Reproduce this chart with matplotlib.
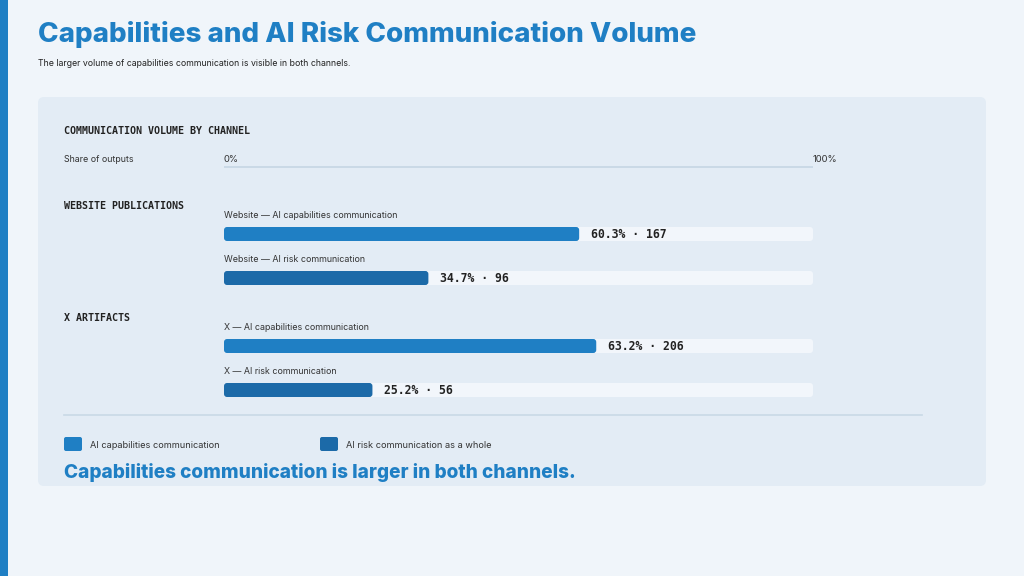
import matplotlib.pyplot as plt
from matplotlib.patches import FancyBboxPatch, Rectangle

# data
groups = ["WEBSITE PUBLICATIONS", "X ARTIFACTS"]
bar_labels = [
    "Website — AI capabilities communication",
    "Website — AI risk communication",
    "X — AI capabilities communication",
    "X — AI risk communication",
]
shares = [60.3, 34.7, 63.2, 25.2]
counts = [167, 96, 206, 56]
kinds = ["cap", "risk", "cap", "risk"]
legend_labels = ["AI capabilities communication", "AI risk communication as a whole"]

CAP = "#1f7fc4"
RISK = "#1c6aa8"
BG = "#f0f5fa"
PANEL = "#e3ecf5"
TRACK = "#f2f6fb"
DARK = "#222222"
TXT = "#333333"
SANS = ["Inter", "DejaVu Sans"]
MONO = ["DejaVu Sans Mono"]

W, H = 1024, 576
fig = plt.figure(figsize=(W / 100, H / 100), dpi=100)
fig.patch.set_facecolor(BG)

# background axes in pixel coordinates
bg = fig.add_axes([0, 0, 1, 1])
bg.set_xlim(0, W)
bg.set_ylim(H, 0)
bg.axis("off")

bg.add_patch(Rectangle((0, 0), 8, H, color=CAP, lw=0))
bg.text(38, 34, "Capabilities and AI Risk Communication Volume", fontsize=20,
        fontweight="heavy", color=CAP, family=SANS, va="center")
bg.text(38, 63, "The larger volume of capabilities communication is visible in both channels.",
        fontsize=6.3, color=DARK, family=SANS, va="center")

bg.add_patch(FancyBboxPatch((38, 97), 948, 389, boxstyle="round,pad=0,rounding_size=6",
                            fc=PANEL, ec="none"))
bg.text(64, 131, "COMMUNICATION VOLUME BY CHANNEL", fontsize=7.2, fontweight="bold",
        color=DARK, family=MONO, va="center")
bg.text(64, 159, "Share of outputs", fontsize=6.4, color=TXT, family=SANS, va="center")

# bar axes: x in percent, y in pixels
x0, x1 = 224, 813
ax = fig.add_axes([x0 / W, 0, (x1 - x0) / W, 1])
ax.set_xlim(0, 100)
ax.set_ylim(H, 0)
ax.axis("off")
px = 100 / (x1 - x0)

ax.plot([0, 100], [167, 167], color="#c5d6e3", lw=1.2, solid_capstyle="butt")
ax.text(0, 159, "0%", fontsize=6.8, color=TXT, family=SANS, va="center", ha="left")
ax.text(100, 159, "100%", fontsize=6.8, color=TXT, family=SANS, va="center", ha="left")

group_y = [205, 317]
for g, gy in zip(groups, group_y):
    bg.text(64, gy + 1, g, fontsize=7.2, fontweight="bold", color=DARK, family=MONO,
            va="center")

bar_y = []
for gy in group_y:
    bar_y += [gy + 29, gy + 73]

bh = 14
for lab, s, c, k, y in zip(bar_labels, shares, counts, kinds, bar_y):
    ax.text(0, y - 18, lab, fontsize=6.4, color=TXT, family=SANS, va="center")
    ax.add_patch(FancyBboxPatch((0, y - bh / 2), 100, bh,
                                boxstyle=f"round,pad=0,rounding_size={3 * px}",
                                mutation_aspect=1 / px, fc=TRACK, ec="none"))
    ax.add_patch(FancyBboxPatch((0, y - bh / 2), s, bh,
                                boxstyle=f"round,pad=0,rounding_size={3 * px}",
                                mutation_aspect=1 / px, fc=CAP if k == "cap" else RISK,
                                ec="none"))
    ax.text(s + 12 * px, y + 1, f"{s:.1f}% · {c}", fontsize=8.3, fontweight="bold",
            color=DARK, family=MONO, va="center")

bg.plot([64, 922], [415, 415], color="#c9d9e6", lw=1.2)

for lx, lab, col in zip([64, 320], legend_labels, [CAP, RISK]):
    bg.add_patch(FancyBboxPatch((lx, 437), 18, 14, boxstyle="round,pad=0,rounding_size=2",
                                fc=col, ec="none"))
    bg.text(lx + 26, 445, lab, fontsize=6.6, color=TXT, family=SANS, va="center")

bg.text(64, 473, "Capabilities communication is larger in both channels.", fontsize=13.7,
        fontweight="heavy", color=CAP, family=SANS, va="center")

fig.savefig("out.png", dpi=100, facecolor=BG)
